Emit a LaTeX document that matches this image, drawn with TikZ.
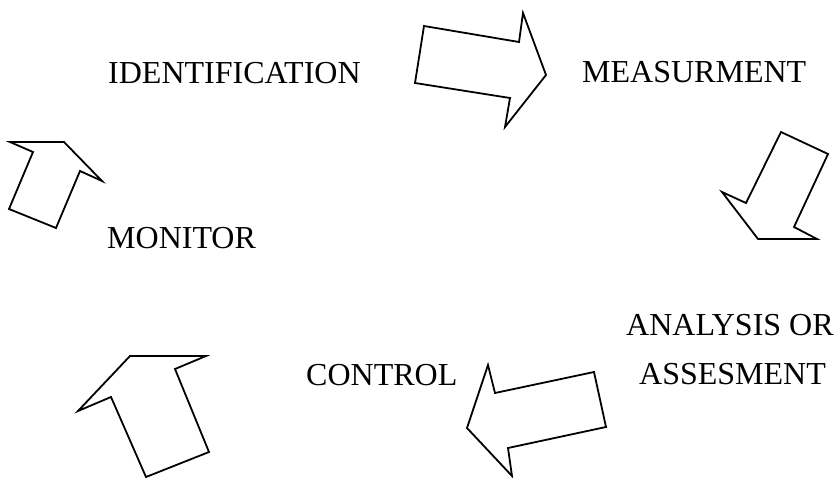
\documentclass[tikz,border=0pt]{standalone}
\usepackage{fontspec}
\setmainfont{Liberation Serif}
\begin{document}
\begin{tikzpicture}[x=1pt,y=-1pt,
  lbl/.style={anchor=base west,inner sep=0pt,font=\fontsize{32}{36}\selectfont},
  blockarrow/.style={draw=black,line width=1.8pt,line join=miter,fill=white}]
\useasboundingbox (0,0) rectangle (840,478);
% labels
\node[lbl] (ident) at (108,84) {IDENTIFICATION};
\node[lbl] (meas) at (582,83) {MEASURMENT};
\node[lbl] (anal) at (626,335) {ANALYSIS OR};
\node[lbl] (asses) at (639,384) {ASSESMENT};
\node[lbl] (ctrl) at (306,385) {CONTROL};
\node[lbl] (mon) at (107,248) {MONITOR};
% block arrows
\draw[blockarrow] (424,26) -- (519,42) -- (523,13) -- (546,75) -- (505,127) -- (510,98) -- (415,83) -- cycle;
\draw[blockarrow] (781,132) -- (828,154) -- (794,227) -- (817,239) -- (758,239) -- (722,192) -- (746,203) -- cycle;
\draw[blockarrow] (488,365) -- (495,393) -- (594,372) -- (606,427) -- (508,448) -- (512,476) -- (467,428) -- cycle;
\draw[blockarrow] (130,356) -- (206,356) -- (175,369) -- (209,452) -- (146,477) -- (111,397) -- (78,411) -- cycle;
\draw[blockarrow] (10,142) -- (64,142) -- (102,181) -- (80,171) -- (56,228) -- (9,209) -- (33,152) -- cycle;
\end{tikzpicture}
\end{document}
